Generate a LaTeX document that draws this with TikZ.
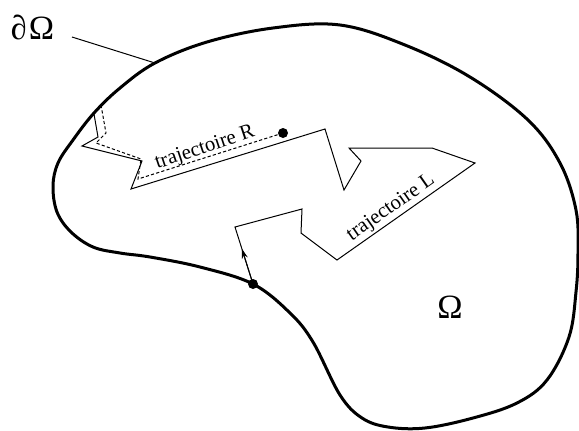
\documentclass[tikz,border=0pt]{standalone}
\usepackage{fontspec}
\setmainfont{Liberation Serif}
\newfontfamily\updfont[FakeSlant=-0.15]{Liberation Serif}
\usetikzlibrary{arrows.meta,calc}
\begin{document}
\begin{tikzpicture}[x=0.5pt,y=-0.5pt,
  bnd/.style={line width=1.5pt, line join=round},
  traj/.style={line width=0.5pt, line join=miter},
  dashtraj/.style={line width=0.5pt, dash pattern=on 1.6pt off 1.1pt},
  dotpt/.style={circle, fill=black, inner sep=0pt, minimum size=5pt},
  lbl/.style={inner sep=0pt, font=\fontsize{10.4}{12}\selectfont},
  biglbl/.style={inner sep=0pt, font=\fontsize{17}{20}\selectfont}]
\useasboundingbox (0,0) rectangle (579,430);
% boundary
\draw[bnd] plot[smooth cycle, tension=0.6] coordinates {
  (155,63) (207,42) (273,28) (340,25) (405,45) (470,77) (528,120)
  (560,163) (576,210) (578,253) (576,292) (569,337) (547,380)
  (517,403) (473,418) (425,428) (388,427) (362,418) (340,395)
  (313,342) (290,313) (253,284) (200,267) (150,257) (120,253)
  (93,247) (71,232) (57,212) (53,186) (58,163) (73,140)
  (94,113) (120,88)};
% coordinates
\coordinate (bp) at (155,63);
\coordinate (lp) at (72,37);
\coordinate (r0) at (94,114);
\coordinate (r1) at (98,137);
\coordinate (r2) at (82,146);
\coordinate (r3) at (142,161);
\coordinate (r4) at (131,189);
\coordinate (r5) at (325,129);
\coordinate (r6) at (344,190);
\coordinate (r7) at (361,161);
\coordinate (r8) at (349,148);
\coordinate (r9) at (432,148);
\coordinate (r10) at (475,163);
\coordinate (r11) at (337,260);
\coordinate (r12) at (301,233);
\coordinate (r13) at (302,209);
\coordinate (r14) at (235,227);
\coordinate (d0) at (101,105);
\coordinate (d1) at (106,133);
\coordinate (d2) at (96,143);
\coordinate (d3) at (141,159);
\coordinate (d4) at (138,179);
% nodes
\node[dotpt] (rdot) at (283,133) {};
\node[dotpt] (sdot) at (253,284) {};
\node[biglbl] (dO) at (33,27) {{\updfont ∂}Ω};
\node[biglbl] (O) at (450,307) {Ω};
\node[lbl, rotate=18.5] (labR) at (205,148) {trajectoire R};
\node[lbl, rotate=35] (labL) at (391,208) {trajectoire L};
% pointer
\draw[line width=0.5pt] (lp) -- (bp);
% trajectories
\draw[traj] (r0) -- (r1) -- (r2) -- (r3) -- (r4) -- (r5) -- (r6) -- (r7) -- (r8) -- (r9) -- (r10) -- (r11) -- (r12) -- (r13) -- (r14) -- (sdot.center);
\draw[dashtraj] (d0) -- (d1) -- (d2) -- (d3) -- (d4) -- (rdot.center);
\draw[line width=0.5pt, -{Stealth[length=5pt, width=3pt]}] (sdot.center) -- ($(sdot.center)!0.62!(r14)$);
\end{tikzpicture}
\end{document}
